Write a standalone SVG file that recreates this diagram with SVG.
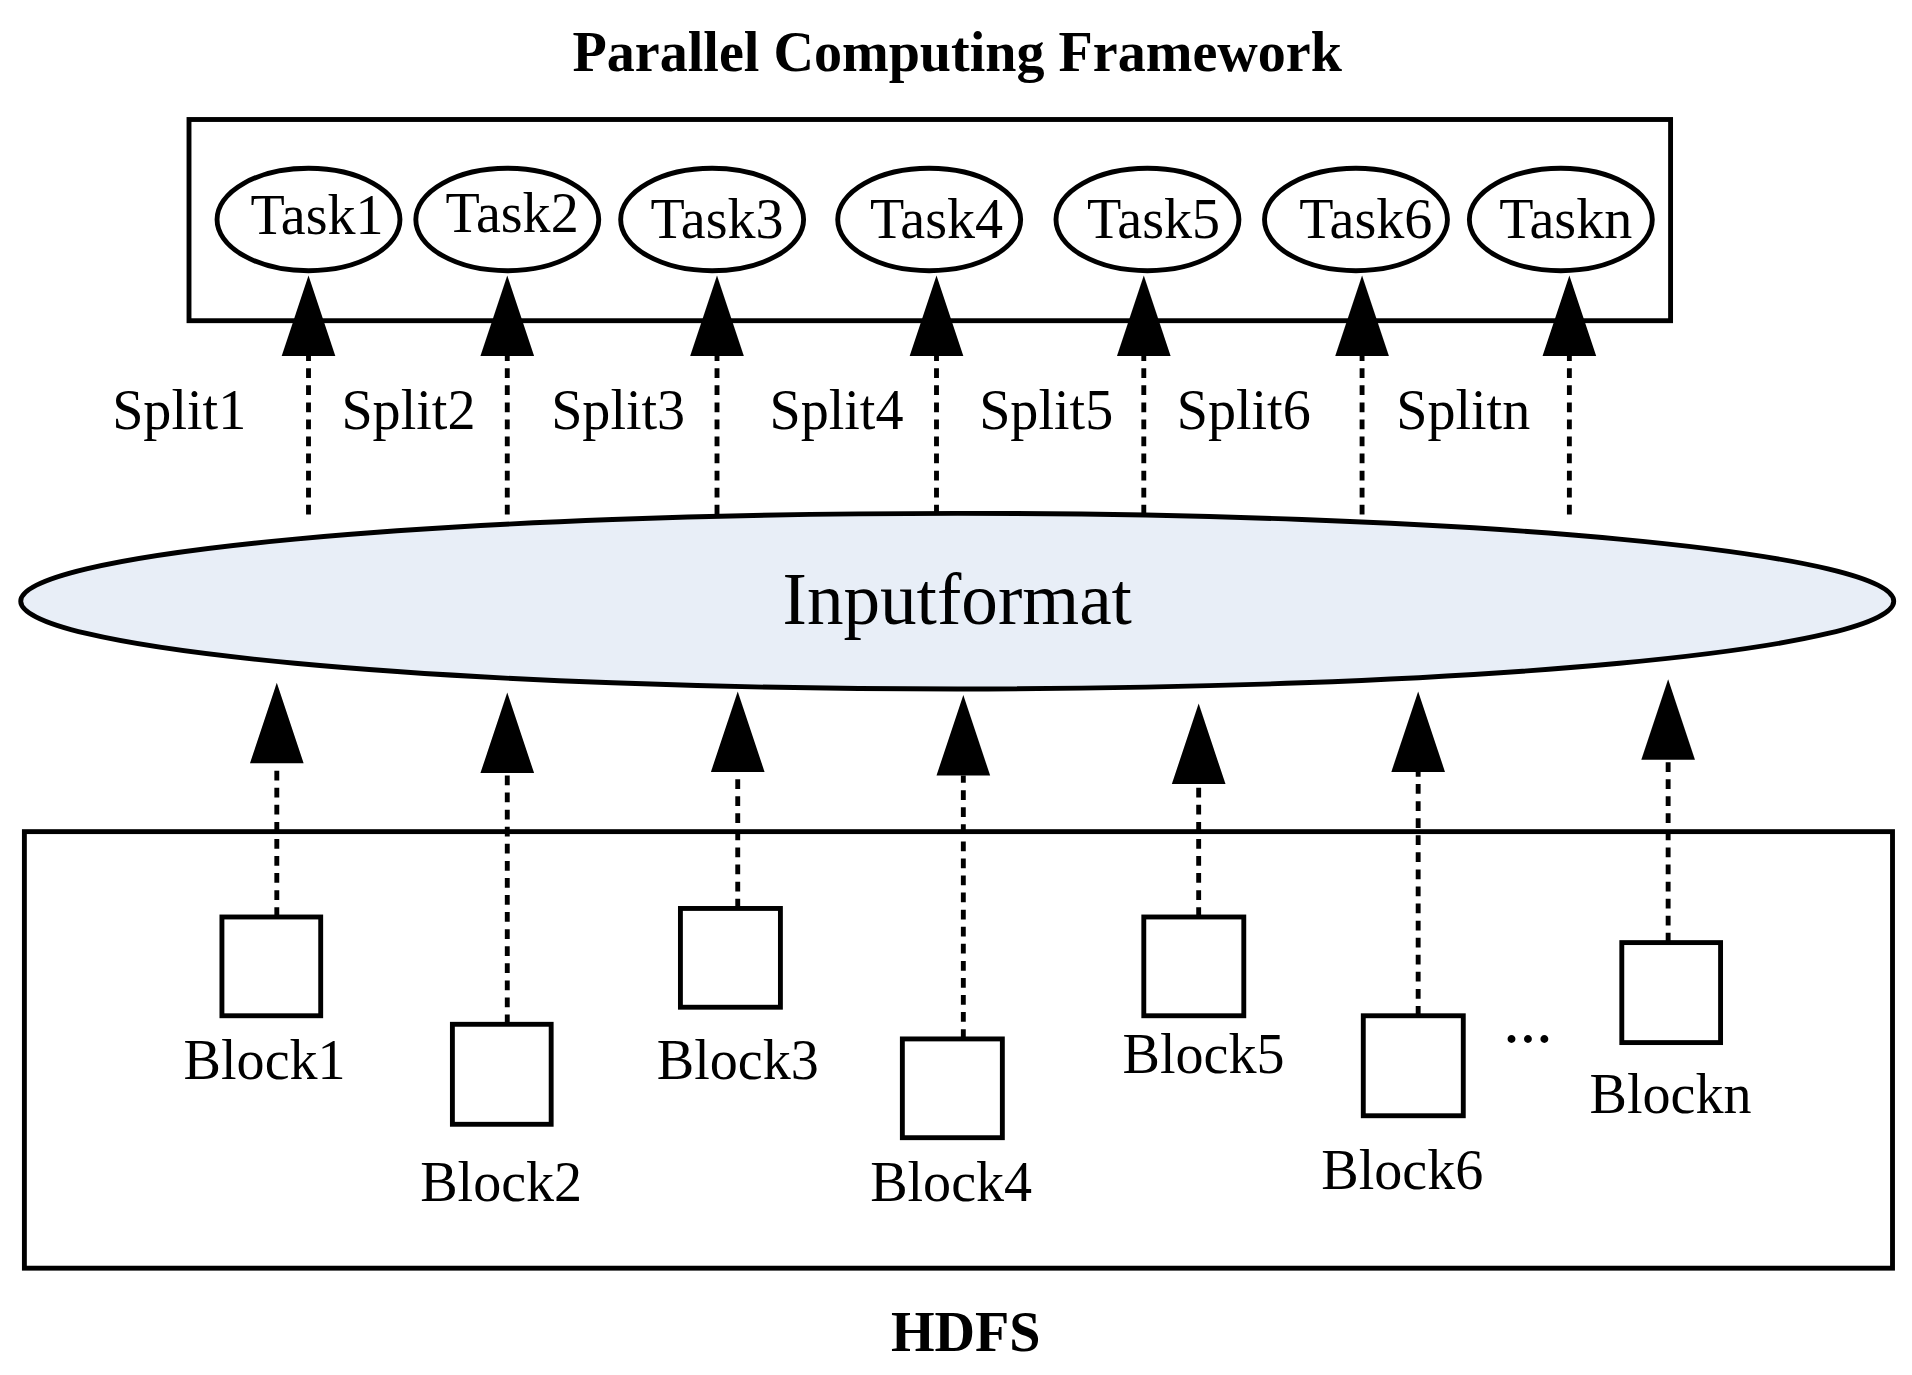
<svg xmlns="http://www.w3.org/2000/svg" xmlns:xlink="http://www.w3.org/1999/xlink" width="1912" height="1375" viewBox="0 0 1912 1375">
<style>
.t{font-family:"Liberation Serif",serif;fill:#000}
.b{font-weight:bold}
.box{fill:none;stroke:#000;stroke-width:4}
.task{fill:#fff;stroke:#000;stroke-width:4}
.dash{stroke:#000;stroke-width:4;stroke-dasharray:8 6;fill:none}
</style>
<defs><path id="ah" d="M0,0 L-22,66 L22,66 Z" fill="#000"/></defs>
<rect width="1912" height="1375" fill="#fff"/>
<g transform="scale(1.2194)">
<text class="t b" x="785" y="58" font-size="46" text-anchor="middle">Parallel Computing Framework</text>
<g id="framework"><rect class="box" x="155" y="98" width="1215" height="165"/></g>
<g id="task1"><ellipse class="task" cx="253" cy="180" rx="75" ry="42"/><text class="t" x="260" y="192" font-size="46" text-anchor="middle">Task1</text></g>
<g id="task2"><ellipse class="task" cx="416" cy="180" rx="75" ry="42"/><text class="t" x="420" y="190" font-size="46" text-anchor="middle">Task2</text></g>
<g id="task3"><ellipse class="task" cx="584" cy="180" rx="75" ry="42"/><text class="t" x="588" y="195" font-size="46" text-anchor="middle">Task3</text></g>
<g id="task4"><ellipse class="task" cx="762" cy="180" rx="75" ry="42"/><text class="t" x="768" y="195" font-size="46" text-anchor="middle">Task4</text></g>
<g id="task5"><ellipse class="task" cx="941" cy="180" rx="75" ry="42"/><text class="t" x="946" y="195" font-size="46" text-anchor="middle">Task5</text></g>
<g id="task6"><ellipse class="task" cx="1112" cy="180" rx="75" ry="42"/><text class="t" x="1120" y="195" font-size="46" text-anchor="middle">Task6</text></g>
<g id="taskn"><ellipse class="task" cx="1280" cy="180" rx="75" ry="42"/><text class="t" x="1284" y="195" font-size="46" text-anchor="middle">Taskn</text></g>
<g id="inputformat"><ellipse cx="785" cy="493" rx="768" ry="72" fill="#E8EEF7" stroke="#000" stroke-width="4"/><text class="t" x="785" y="512" font-size="60" text-anchor="middle">Inputformat</text></g>
<g id="hdfs"><rect class="box" x="20" y="682" width="1532" height="358"/><text class="t b" x="792" y="1108" font-size="46" text-anchor="middle">HDFS</text></g>
<g id="block1"><rect class="box" x="182" y="752" width="81" height="81"/><text class="t" x="217" y="885" font-size="46" text-anchor="middle">Block1</text></g>
<g id="block2"><rect class="box" x="371" y="840" width="81" height="82"/><text class="t" x="411" y="985" font-size="46" text-anchor="middle">Block2</text></g>
<g id="block3"><rect class="box" x="558" y="745" width="82" height="81"/><text class="t" x="605" y="885" font-size="46" text-anchor="middle">Block3</text></g>
<g id="block4"><rect class="box" x="740" y="852" width="82" height="81"/><text class="t" x="780" y="985" font-size="46" text-anchor="middle">Block4</text></g>
<g id="block5"><rect class="box" x="938" y="752" width="82" height="81"/><text class="t" x="987" y="880" font-size="46" text-anchor="middle">Block5</text></g>
<g id="block6"><rect class="box" x="1118" y="833" width="82" height="82"/><text class="t" x="1150" y="975" font-size="46" text-anchor="middle">Block6</text></g>
<g id="blockn"><rect class="box" x="1330" y="773" width="81" height="82"/><text class="t" x="1370" y="913" font-size="46" text-anchor="middle">Blockn</text></g>
<text class="t b" x="1253" y="855" font-size="40" text-anchor="middle">…</text>
<g id="split-labels" class="t" font-size="46">
<text x="92" y="352">Split1</text><text x="280" y="352">Split2</text><text x="452" y="352">Split3</text><text x="631" y="352">Split4</text><text x="803" y="352">Split5</text><text x="965" y="352">Split6</text><text x="1145" y="352">Splitn</text>
</g>
<g id="connectors">
<path class="dash" d="M253,422V292M416,422V292M588,422V292M768,422V292M938,422V292M1117,422V292M1287,422V292"/>
<use xlink:href="#ah" x="253" y="226"/><use xlink:href="#ah" x="416" y="226"/><use xlink:href="#ah" x="588" y="226"/><use xlink:href="#ah" x="768" y="226"/><use xlink:href="#ah" x="938" y="226"/><use xlink:href="#ah" x="1117" y="226"/><use xlink:href="#ah" x="1287" y="226"/>
<path class="dash" d="M227,752V626M416,840V634M605,745V633M790,852V636M983,752V643M1163,833V633M1368,773V623"/>
<use xlink:href="#ah" x="227" y="560"/><use xlink:href="#ah" x="416" y="568"/><use xlink:href="#ah" x="605" y="567"/><use xlink:href="#ah" x="790" y="570"/><use xlink:href="#ah" x="983" y="577"/><use xlink:href="#ah" x="1163" y="567"/><use xlink:href="#ah" x="1368" y="557"/>
</g>
</g>
</svg>
